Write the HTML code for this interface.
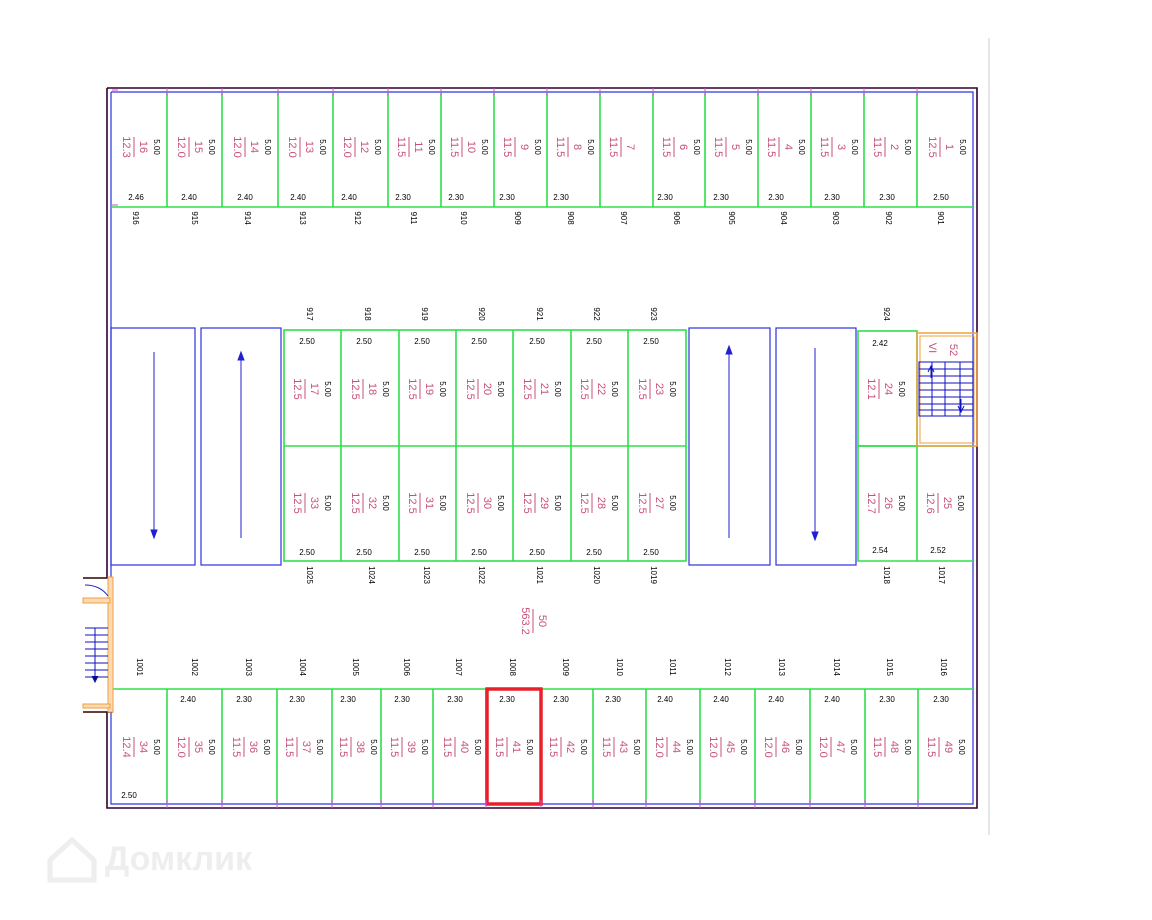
<!DOCTYPE html>
<html><head><meta charset="utf-8"><style>
body{margin:0;background:#fff;width:1152px;height:915px;overflow:hidden}
svg{font-family:"Liberation Sans",sans-serif}
.p{fill:#c8507a;font-size:11px;text-anchor:middle}
.k{fill:#000;font-size:8px;text-anchor:middle}
.g{stroke:#2de04a;stroke-width:1.6;fill:none}
.b{stroke:#3030e0;stroke-width:1.2;fill:none}
.pb{stroke:#c8507a;stroke-width:1}
</style></head><body>
<svg width="1152" height="915" viewBox="0 0 1152 915">
<line x1="989" y1="38" x2="989" y2="835" stroke="#ccc"/>
<!-- outer walls -->
<path d="M107 88 H977 V808 H107 V712 M107 578 V88" stroke="#300030" stroke-width="1.6" fill="none"/>
<path d="M111 92 H973 V804 H111 V712 M111 578 V92" class="b" stroke="#6060ff"/>
<!-- top row -->
<line x1="111" y1="207" x2="973" y2="207" class="g"/>
<g class="g"><path d="M167 92V207M222 92V207M278 92V207M333 92V207M388 92V207M441 92V207M494 92V207M547 92V207M600 92V207M653 92V207M705 92V207M758 92V207M811 92V207M864 92V207M917 92V207"/></g>
<!-- bottom row -->
<line x1="111" y1="689" x2="973" y2="689" class="g"/>
<g class="g"><path d="M167 689V804M222 689V804M277 689V804M332 689V804M381 689V804M433 689V804M486 689V804M541 689V804M593 689V804M646 689V804M700 689V804M755 689V804M810 689V804M865 689V804M918 689V804"/></g>
<!-- middle block -->
<rect x="284" y="330" width="402" height="231" class="g"/>
<line x1="284" y1="446" x2="686" y2="446" class="g"/>
<path class="g" d="M341 330V561M399 330V561M456 330V561M513 330V561M571 330V561M628 330V561"/>
<rect x="858" y="331" width="59" height="115" class="g"/>
<path class="g" d="M858 446H973M858 446V561H973M917 446V561"/>
<!-- ramps -->
<rect x="111" y="328" width="84" height="237" class="b"/>
<rect x="201" y="328" width="80" height="237" class="b"/>
<rect x="689" y="328" width="81" height="237" class="b"/>
<rect x="776" y="328" width="80" height="237" class="b"/>
<g stroke="#2020d0" fill="#2020d0">
<line x1="154" y1="352" x2="154" y2="536"/><path d="M151 530L154 538L157 530Z"/>
<line x1="241" y1="354" x2="241" y2="538"/><path d="M238 360L241 352L244 360Z"/>
<line x1="729" y1="354" x2="729" y2="538"/><path d="M726 354L729 346L732 354Z"/>
<line x1="815" y1="348" x2="815" y2="536"/><path d="M812 532L815 540L818 532Z"/>
</g>
<!-- right stair -->
<rect x="917" y="333" width="60" height="113" fill="none" stroke="#f0a040" stroke-width="1.5"/>
<rect x="920" y="336" width="54" height="107" fill="none" stroke="#f0a040" stroke-width="1"/>
<g stroke="#1010c0" stroke-width="1" fill="none">
<rect x="919" y="362" width="54" height="54"/>
<path d="M945 362V416M932 362V416M960 362V416M919 369H973M919 376H973M919 383H973M919 390H973M919 397H973M919 404H973M919 410H973"/>
<path d="M931 378V366M928 372L931 366L934 372M961 399V412M958 406L961 412L964 406"/>
</g>
<text class="p" transform="translate(929,348) rotate(90)">VI</text>
<text class="p" transform="translate(950,350) rotate(90)">52</text>
<!-- left stair -->
<path d="M83 578H112V712H83" fill="none" stroke="#300" stroke-width="1.5"/>
<rect x="108" y="577" width="5" height="135" fill="#fbd9b5" stroke="#f0a040"/>
<rect x="83" y="598" width="27" height="5" fill="#fbd9b5" stroke="#f0a040"/>
<rect x="83" y="704" width="27" height="4" fill="#fbd9b5" stroke="#f0a040"/>
<path d="M85 585Q100 585 108 596" stroke="#2020d0" fill="none"/>
<g stroke="#1010c0"><path d="M85 628H108M85 635H108M85 642H108M85 649H108M85 656H108M85 663H108M85 670H108M85 677H108M95 628V682M92 676L95 682L98 676"/></g>
<!-- red box -->
<rect x="487" y="689" width="54" height="115" fill="none" stroke="#e8202a" stroke-width="3.5"/>
<!-- top row labels -->
<g id="t">
<g transform="translate(139,147) rotate(90)"><text class="p" y="-1">16</text><line x1="-10" x2="10" y1="5" y2="5" class="pb"/><text class="p" y="16">12.3</text><text class="k" y="-15">5.00</text></g>
<g transform="translate(194,147) rotate(90)"><text class="p" y="-1">15</text><line x1="-10" x2="10" y1="5" y2="5" class="pb"/><text class="p" y="16">12.0</text><text class="k" y="-15">5.00</text></g>
<g transform="translate(250,147) rotate(90)"><text class="p" y="-1">14</text><line x1="-10" x2="10" y1="5" y2="5" class="pb"/><text class="p" y="16">12.0</text><text class="k" y="-15">5.00</text></g>
<g transform="translate(305,147) rotate(90)"><text class="p" y="-1">13</text><line x1="-10" x2="10" y1="5" y2="5" class="pb"/><text class="p" y="16">12.0</text><text class="k" y="-15">5.00</text></g>
<g transform="translate(360,147) rotate(90)"><text class="p" y="-1">12</text><line x1="-10" x2="10" y1="5" y2="5" class="pb"/><text class="p" y="16">12.0</text><text class="k" y="-15">5.00</text></g>
<g transform="translate(414,147) rotate(90)"><text class="p" y="-1">11</text><line x1="-10" x2="10" y1="5" y2="5" class="pb"/><text class="p" y="16">11.5</text><text class="k" y="-15">5.00</text></g>
<g transform="translate(467,147) rotate(90)"><text class="p" y="-1">10</text><line x1="-10" x2="10" y1="5" y2="5" class="pb"/><text class="p" y="16">11.5</text><text class="k" y="-15">5.00</text></g>
<g transform="translate(520,147) rotate(90)"><text class="p" y="-1">9</text><line x1="-10" x2="10" y1="5" y2="5" class="pb"/><text class="p" y="16">11.5</text><text class="k" y="-15">5.00</text></g>
<g transform="translate(573,147) rotate(90)"><text class="p" y="-1">8</text><line x1="-10" x2="10" y1="5" y2="5" class="pb"/><text class="p" y="16">11.5</text><text class="k" y="-15">5.00</text></g>
<g transform="translate(626,147) rotate(90)"><text class="p" y="-1">7</text><line x1="-10" x2="10" y1="5" y2="5" class="pb"/><text class="p" y="16">11.5</text></g>
<g transform="translate(679,147) rotate(90)"><text class="p" y="-1">6</text><line x1="-10" x2="10" y1="5" y2="5" class="pb"/><text class="p" y="16">11.5</text><text class="k" y="-15">5.00</text></g>
<g transform="translate(731,147) rotate(90)"><text class="p" y="-1">5</text><line x1="-10" x2="10" y1="5" y2="5" class="pb"/><text class="p" y="16">11.5</text><text class="k" y="-15">5.00</text></g>
<g transform="translate(784,147) rotate(90)"><text class="p" y="-1">4</text><line x1="-10" x2="10" y1="5" y2="5" class="pb"/><text class="p" y="16">11.5</text><text class="k" y="-15">5.00</text></g>
<g transform="translate(837,147) rotate(90)"><text class="p" y="-1">3</text><line x1="-10" x2="10" y1="5" y2="5" class="pb"/><text class="p" y="16">11.5</text><text class="k" y="-15">5.00</text></g>
<g transform="translate(890,147) rotate(90)"><text class="p" y="-1">2</text><line x1="-10" x2="10" y1="5" y2="5" class="pb"/><text class="p" y="16">11.5</text><text class="k" y="-15">5.00</text></g>
<g transform="translate(945,147) rotate(90)"><text class="p" y="-1">1</text><line x1="-10" x2="10" y1="5" y2="5" class="pb"/><text class="p" y="16">12.5</text><text class="k" y="-15">5.00</text></g>
</g>
<g class="k">
<text x="136" y="200">2.46</text><text x="189" y="200">2.40</text><text x="245" y="200">2.40</text><text x="298" y="200">2.40</text><text x="349" y="200">2.40</text><text x="403" y="200">2.30</text><text x="456" y="200">2.30</text><text x="507" y="200">2.30</text><text x="561" y="200">2.30</text><text x="665" y="200">2.30</text><text x="721" y="200">2.30</text><text x="776" y="200">2.30</text><text x="832" y="200">2.30</text><text x="887" y="200">2.30</text><text x="941" y="200">2.50</text>
</g>
<g class="k">
<text transform="translate(133,218) rotate(90)">916</text><text transform="translate(192,218) rotate(90)">915</text><text transform="translate(245,218) rotate(90)">914</text><text transform="translate(300,218) rotate(90)">913</text><text transform="translate(355,218) rotate(90)">912</text><text transform="translate(411,218) rotate(90)">911</text><text transform="translate(461,218) rotate(90)">910</text><text transform="translate(515,218) rotate(90)">909</text><text transform="translate(568,218) rotate(90)">908</text><text transform="translate(621,218) rotate(90)">907</text><text transform="translate(674,218) rotate(90)">906</text><text transform="translate(729,218) rotate(90)">905</text><text transform="translate(781,218) rotate(90)">904</text><text transform="translate(833,218) rotate(90)">903</text><text transform="translate(886,218) rotate(90)">902</text><text transform="translate(938,218) rotate(90)">901</text>
<text transform="translate(307,314) rotate(90)">917</text><text transform="translate(365,314) rotate(90)">918</text><text transform="translate(422,314) rotate(90)">919</text><text transform="translate(479,314) rotate(90)">920</text><text transform="translate(537,314) rotate(90)">921</text><text transform="translate(594,314) rotate(90)">922</text><text transform="translate(651,314) rotate(90)">923</text><text transform="translate(884,314) rotate(90)">924</text>
<text transform="translate(307,575) rotate(90)">1025</text><text transform="translate(369,575) rotate(90)">1024</text><text transform="translate(424,575) rotate(90)">1023</text><text transform="translate(479,575) rotate(90)">1022</text><text transform="translate(537,575) rotate(90)">1021</text><text transform="translate(594,575) rotate(90)">1020</text><text transform="translate(651,575) rotate(90)">1019</text><text transform="translate(884,575) rotate(90)">1018</text><text transform="translate(939,575) rotate(90)">1017</text>
<text transform="translate(137,667) rotate(90)">1001</text><text transform="translate(192,667) rotate(90)">1002</text><text transform="translate(246,667) rotate(90)">1003</text><text transform="translate(300,667) rotate(90)">1004</text><text transform="translate(353,667) rotate(90)">1005</text><text transform="translate(404,667) rotate(90)">1006</text><text transform="translate(456,667) rotate(90)">1007</text><text transform="translate(510,667) rotate(90)">1008</text><text transform="translate(563,667) rotate(90)">1009</text><text transform="translate(617,667) rotate(90)">1010</text><text transform="translate(670,667) rotate(90)">1011</text><text transform="translate(725,667) rotate(90)">1012</text><text transform="translate(779,667) rotate(90)">1013</text><text transform="translate(834,667) rotate(90)">1014</text><text transform="translate(887,667) rotate(90)">1015</text><text transform="translate(941,667) rotate(90)">1016</text>
</g>
<!-- middle labels -->
<g>
<g transform="translate(310,389) rotate(90)"><text class="p" y="-1">17</text><line x1="-10" x2="10" y1="5" y2="5" class="pb"/><text class="p" y="16">12.5</text><text class="k" y="-15">5.00</text></g>
<g transform="translate(368,389) rotate(90)"><text class="p" y="-1">18</text><line x1="-10" x2="10" y1="5" y2="5" class="pb"/><text class="p" y="16">12.5</text><text class="k" y="-15">5.00</text></g>
<g transform="translate(425,389) rotate(90)"><text class="p" y="-1">19</text><line x1="-10" x2="10" y1="5" y2="5" class="pb"/><text class="p" y="16">12.5</text><text class="k" y="-15">5.00</text></g>
<g transform="translate(483,389) rotate(90)"><text class="p" y="-1">20</text><line x1="-10" x2="10" y1="5" y2="5" class="pb"/><text class="p" y="16">12.5</text><text class="k" y="-15">5.00</text></g>
<g transform="translate(540,389) rotate(90)"><text class="p" y="-1">21</text><line x1="-10" x2="10" y1="5" y2="5" class="pb"/><text class="p" y="16">12.5</text><text class="k" y="-15">5.00</text></g>
<g transform="translate(597,389) rotate(90)"><text class="p" y="-1">22</text><line x1="-10" x2="10" y1="5" y2="5" class="pb"/><text class="p" y="16">12.5</text><text class="k" y="-15">5.00</text></g>
<g transform="translate(655,389) rotate(90)"><text class="p" y="-1">23</text><line x1="-10" x2="10" y1="5" y2="5" class="pb"/><text class="p" y="16">12.5</text><text class="k" y="-15">5.00</text></g>
<g transform="translate(884,389) rotate(90)"><text class="p" y="-1">24</text><line x1="-10" x2="10" y1="5" y2="5" class="pb"/><text class="p" y="16">12.1</text><text class="k" y="-15">5.00</text></g>
<g transform="translate(310,503) rotate(90)"><text class="p" y="-1">33</text><line x1="-10" x2="10" y1="5" y2="5" class="pb"/><text class="p" y="16">12.5</text><text class="k" y="-15">5.00</text></g>
<g transform="translate(368,503) rotate(90)"><text class="p" y="-1">32</text><line x1="-10" x2="10" y1="5" y2="5" class="pb"/><text class="p" y="16">12.5</text><text class="k" y="-15">5.00</text></g>
<g transform="translate(425,503) rotate(90)"><text class="p" y="-1">31</text><line x1="-10" x2="10" y1="5" y2="5" class="pb"/><text class="p" y="16">12.5</text><text class="k" y="-15">5.00</text></g>
<g transform="translate(483,503) rotate(90)"><text class="p" y="-1">30</text><line x1="-10" x2="10" y1="5" y2="5" class="pb"/><text class="p" y="16">12.5</text><text class="k" y="-15">5.00</text></g>
<g transform="translate(540,503) rotate(90)"><text class="p" y="-1">29</text><line x1="-10" x2="10" y1="5" y2="5" class="pb"/><text class="p" y="16">12.5</text><text class="k" y="-15">5.00</text></g>
<g transform="translate(597,503) rotate(90)"><text class="p" y="-1">28</text><line x1="-10" x2="10" y1="5" y2="5" class="pb"/><text class="p" y="16">12.5</text><text class="k" y="-15">5.00</text></g>
<g transform="translate(655,503) rotate(90)"><text class="p" y="-1">27</text><line x1="-10" x2="10" y1="5" y2="5" class="pb"/><text class="p" y="16">12.5</text><text class="k" y="-15">5.00</text></g>
<g transform="translate(884,503) rotate(90)"><text class="p" y="-1">26</text><line x1="-10" x2="10" y1="5" y2="5" class="pb"/><text class="p" y="16">12.7</text><text class="k" y="-15">5.00</text></g>
<g transform="translate(943,503) rotate(90)"><text class="p" y="-1">25</text><line x1="-10" x2="10" y1="5" y2="5" class="pb"/><text class="p" y="16">12.6</text><text class="k" y="-15">5.00</text></g>
</g>
<g class="k">
<text x="307" y="344">2.50</text><text x="364" y="344">2.50</text><text x="422" y="344">2.50</text><text x="479" y="344">2.50</text><text x="537" y="344">2.50</text><text x="594" y="344">2.50</text><text x="651" y="344">2.50</text><text x="880" y="346">2.42</text>
<text x="307" y="555">2.50</text><text x="364" y="555">2.50</text><text x="422" y="555">2.50</text><text x="479" y="555">2.50</text><text x="537" y="555">2.50</text><text x="594" y="555">2.50</text><text x="651" y="555">2.50</text><text x="880" y="553">2.54</text><text x="938" y="553">2.52</text>
</g>
<g transform="translate(538,621) rotate(90)"><text class="p" y="-1">50</text><line x1="-12" x2="12" y1="5" y2="5" class="pb"/><text class="p" y="16">563.2</text></g>
<!-- bottom labels -->
<g>
<g transform="translate(139,747) rotate(90)"><text class="p" y="-1">34</text><line x1="-10" x2="10" y1="5" y2="5" class="pb"/><text class="p" y="16">12.4</text><text class="k" y="-15">5.00</text></g>
<g transform="translate(194,747) rotate(90)"><text class="p" y="-1">35</text><line x1="-10" x2="10" y1="5" y2="5" class="pb"/><text class="p" y="16">12.0</text><text class="k" y="-15">5.00</text></g>
<g transform="translate(249,747) rotate(90)"><text class="p" y="-1">36</text><line x1="-10" x2="10" y1="5" y2="5" class="pb"/><text class="p" y="16">11.5</text><text class="k" y="-15">5.00</text></g>
<g transform="translate(302,747) rotate(90)"><text class="p" y="-1">37</text><line x1="-10" x2="10" y1="5" y2="5" class="pb"/><text class="p" y="16">11.5</text><text class="k" y="-15">5.00</text></g>
<g transform="translate(356,747) rotate(90)"><text class="p" y="-1">38</text><line x1="-10" x2="10" y1="5" y2="5" class="pb"/><text class="p" y="16">11.5</text><text class="k" y="-15">5.00</text></g>
<g transform="translate(407,747) rotate(90)"><text class="p" y="-1">39</text><line x1="-10" x2="10" y1="5" y2="5" class="pb"/><text class="p" y="16">11.5</text><text class="k" y="-15">5.00</text></g>
<g transform="translate(460,747) rotate(90)"><text class="p" y="-1">40</text><line x1="-10" x2="10" y1="5" y2="5" class="pb"/><text class="p" y="16">11.5</text><text class="k" y="-15">5.00</text></g>
<g transform="translate(512,747) rotate(90)"><text class="p" y="-1">41</text><line x1="-10" x2="10" y1="5" y2="5" class="pb"/><text class="p" y="16">11.5</text><text class="k" y="-15">5.00</text></g>
<g transform="translate(566,747) rotate(90)"><text class="p" y="-1">42</text><line x1="-10" x2="10" y1="5" y2="5" class="pb"/><text class="p" y="16">11.5</text><text class="k" y="-15">5.00</text></g>
<g transform="translate(619,747) rotate(90)"><text class="p" y="-1">43</text><line x1="-10" x2="10" y1="5" y2="5" class="pb"/><text class="p" y="16">11.5</text><text class="k" y="-15">5.00</text></g>
<g transform="translate(672,747) rotate(90)"><text class="p" y="-1">44</text><line x1="-10" x2="10" y1="5" y2="5" class="pb"/><text class="p" y="16">12.0</text><text class="k" y="-15">5.00</text></g>
<g transform="translate(726,747) rotate(90)"><text class="p" y="-1">45</text><line x1="-10" x2="10" y1="5" y2="5" class="pb"/><text class="p" y="16">12.0</text><text class="k" y="-15">5.00</text></g>
<g transform="translate(781,747) rotate(90)"><text class="p" y="-1">46</text><line x1="-10" x2="10" y1="5" y2="5" class="pb"/><text class="p" y="16">12.0</text><text class="k" y="-15">5.00</text></g>
<g transform="translate(836,747) rotate(90)"><text class="p" y="-1">47</text><line x1="-10" x2="10" y1="5" y2="5" class="pb"/><text class="p" y="16">12.0</text><text class="k" y="-15">5.00</text></g>
<g transform="translate(890,747) rotate(90)"><text class="p" y="-1">48</text><line x1="-10" x2="10" y1="5" y2="5" class="pb"/><text class="p" y="16">11.5</text><text class="k" y="-15">5.00</text></g>
<g transform="translate(944,747) rotate(90)"><text class="p" y="-1">49</text><line x1="-10" x2="10" y1="5" y2="5" class="pb"/><text class="p" y="16">11.5</text><text class="k" y="-15">5.00</text></g>
</g>
<g class="k">
<text x="129" y="798">2.50</text><text x="188" y="702">2.40</text><text x="244" y="702">2.30</text><text x="297" y="702">2.30</text><text x="348" y="702">2.30</text><text x="402" y="702">2.30</text><text x="455" y="702">2.30</text><text x="507" y="702">2.30</text><text x="561" y="702">2.30</text><text x="613" y="702">2.30</text><text x="665" y="702">2.40</text><text x="721" y="702">2.40</text><text x="776" y="702">2.40</text><text x="832" y="702">2.40</text><text x="887" y="702">2.30</text><text x="941" y="702">2.30</text>
</g>
<!-- magenta ticks -->
<g stroke="#e040e0" stroke-width="1">
<path d="M167 88v8M222 88v8M278 88v8M333 88v8M388 88v8M441 88v8M494 88v8M547 88v8M600 88v8M653 88v8M705 88v8M758 88v8M811 88v8M864 88v8M917 88v8M112 90h6M112 205h6"/>
<path d="M167 800v8M222 800v8M277 800v8M332 800v8M381 800v8M433 800v8M486 800v8M541 800v8M593 800v8M646 800v8M700 800v8M755 800v8M810 800v8M865 800v8M918 800v8"/>
</g>
<text x="105" y="870" font-size="34" font-weight="bold" fill="#eee" font-family="Liberation Sans,sans-serif">Домклик</text>
<path d="M50 860L72 840L94 860V880H50Z" fill="none" stroke="#eee" stroke-width="5"/>
</svg>
</body></html>
